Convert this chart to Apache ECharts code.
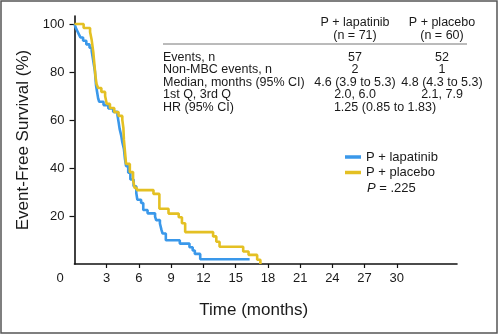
<!DOCTYPE html>
<html>
<head>
<meta charset="utf-8">
<script src="https://cdn.jsdelivr.net/npm/echarts@6/dist/echarts.min.js"></script>
<style>
html,body{margin:0;padding:0;background:#fff;}
#chart{width:500px;height:334px;}
</style>
</head>
<body>
<div id="chart"></div>
<script>
// ---- data ----
var lapatinibName = 'P + lapatinib';
var placeboName = 'P + placebo';
// [months, event-free survival %]
var lapatinibCurve = [
  [0,100],[0.1,98.6],[0.25,97.2],[0.4,95.8],[0.55,94.4],[0.8,93.0],[1.1,91.5],[1.4,90.1],
  [1.6,88.7],[1.7,85.9],[1.8,83.1],[1.9,80.3],[1.95,77.5],[2.0,74.6],[2.1,71.8],[2.2,69.0],
  [2.3,67.6],[2.7,66.2],[3.15,64.8],[3.6,63.4],[4.0,62.0],[4.1,59.2],[4.2,56.3],[4.35,53.5],
  [4.45,50.7],[4.6,47.9],[4.7,43.7],[4.8,40.8],[5.0,38.0],[5.2,35.2],[5.5,32.4],[5.75,29.6],
  [5.85,26.8],[6.2,25.4],[6.4,22.5],[6.8,21.1],[7.5,19.7],[7.6,18.3],[7.95,16.9],[8.1,14.1],
  [8.2,12.7],[8.5,9.9],[9.8,8.5],[10.7,7.0],[11.0,5.6],[11.2,4.2],[11.7,2.0],[16.3,2.0]
];
var placeboCurve = [
  [0,100],[0.85,98.3],[1.45,96.7],[1.6,93.3],[1.75,88.3],[1.85,83.3],[1.95,78.3],[2.05,75.0],
  [2.2,73.3],[2.5,71.7],[2.85,70.0],[3.0,66.7],[3.3,65.0],[3.7,63.3],[4.1,61.7],[4.45,60.0],
  [4.55,56.7],[4.6,51.7],[4.7,46.7],[4.8,41.7],[5.15,38.3],[5.45,35.0],[5.6,31.7],[5.8,30.8],
  [7.35,29.2],[7.9,23.0],[8.75,21.0],[9.7,19.5],[10.0,17.0],[10.3,13.3],[12.9,11.5],[13.2,9.3],
  [13.5,7.2],[15.7,5.2],[16.2,3.8],[17.0,1.8],[17.3,0]
];
var xTickValues = [3,6,9,12,15,18,21,24,27,30];
var yTickValues = [20,40,60,80,100];
var originLabel = '0';
var xTitle = 'Time (months)';
var yTitle = 'Event-Free Survival (%)';

var tableHeaderTop = ['P + lapatinib', 'P + placebo'];
var tableHeaderN = ['(n = 71)', '(n = 60)'];
var tableRowLabels = ['Events, n', 'Non-MBC events, n', 'Median, months (95% CI)', '1st Q, 3rd Q', 'HR (95% CI)'];
var tableLapatinib = ['57', '2', '4.6 (3.9 to 5.3)', '2.0, 6.0', null];
var tablePlacebo = ['52', '1', '4.8 (4.3 to 5.3)', '2.1, 7.9', null];
var hrText = '1.25 (0.85 to 1.83)';
var pValueText = ' = .225';

// ---- styles ----
var FONT = '"Liberation Sans", Arial, Helvetica, sans-serif';
var TXT = '#1a1a1a';
var BLUE = '#3a98ea';
var YELLOW = '#e4c023';
var TFONT = '12.5px ' + FONT;

var chart = echarts.init(document.getElementById('chart'), null, {renderer: 'canvas'});

var graphics = [];
// outer frame
graphics.push({type: 'rect', shape: {x: 1, y: 1, width: 496, height: 332},
  style: {fill: 'none', stroke: '#555', lineWidth: 1.5}, silent: true});
// origin label
graphics.push({type: 'text', x: 60, y: 278, style: {text: originLabel, font: '13px ' + FONT,
  fill: TXT, align: 'center', verticalAlign: 'middle'}});

// table
var colX = [355, 442];
var labelX = 163;
var rowY0 = 57.5, rowH = 12.4;
for (var c = 0; c < 2; c++) {
  graphics.push({type: 'text', x: colX[c], y: 23, style: {text: tableHeaderTop[c], font: TFONT,
    fill: TXT, align: 'center', verticalAlign: 'middle'}});
  graphics.push({type: 'text', x: colX[c], y: 36, style: {text: tableHeaderN[c], font: TFONT,
    fill: TXT, align: 'center', verticalAlign: 'middle'}});
}
graphics.push({type: 'line', shape: {x1: 163, y1: 44, x2: 467, y2: 44},
  style: {stroke: '#777', lineWidth: 1}});
for (var r = 0; r < tableRowLabels.length; r++) {
  var y = rowY0 + r * rowH;
  graphics.push({type: 'text', x: labelX, y: y, style: {text: tableRowLabels[r], font: TFONT,
    fill: TXT, align: 'left', verticalAlign: 'middle'}});
  if (tableLapatinib[r] !== null) {
    graphics.push({type: 'text', x: colX[0], y: y, style: {text: tableLapatinib[r], font: TFONT,
      fill: TXT, align: 'center', verticalAlign: 'middle'}});
    graphics.push({type: 'text', x: colX[1], y: y, style: {text: tablePlacebo[r], font: TFONT,
      fill: TXT, align: 'center', verticalAlign: 'middle'}});
  } else {
    graphics.push({type: 'text', x: 385, y: y, style: {text: hrText, font: TFONT,
      fill: TXT, align: 'center', verticalAlign: 'middle'}});
  }
}
// p value under legend
graphics.push({type: 'text', x: 367, y: 188.5, style: {
  text: '{i|P}{n|' + pValueText + '}',
  rich: {i: {fontStyle: 'italic', fontSize: 13, fontFamily: FONT, fill: TXT},
         n: {fontSize: 13, fontFamily: FONT, fill: TXT}},
  verticalAlign: 'middle'}});

var option = {
  animation: false,
  backgroundColor: '#fff',
  textStyle: {fontFamily: FONT},
  grid: {left: 74.5, right: 43, top: 16, bottom: 70, containLabel: false},
  legend: {
    orient: 'vertical', left: 345, top: 150, padding: 0,
    icon: 'rect', itemWidth: 16, itemHeight: 3.5, itemGap: 1.5,
    textStyle: {fontSize: 13, color: TXT, fontFamily: FONT, lineHeight: 14},
    data: [lapatinibName, placeboName]
  },
  xAxis: {
    type: 'value', min: 0, max: 35.6, interval: 3,
    name: xTitle, nameLocation: 'middle', nameGap: 37.5,
    nameTextStyle: {fontSize: 17, color: TXT, fontFamily: FONT, padding: [0, 24, 0, 0]},
    axisLine: {show: true, onZero: false, lineStyle: {color: '#111', width: 1.6}},
    axisTick: {show: true, inside: false, length: 4, customValues: xTickValues, lineStyle: {color: '#111', width: 1.2}},
    axisLabel: {show: true, customValues: xTickValues, margin: 8, fontSize: 13, color: TXT, fontFamily: FONT},
    splitLine: {show: false}
  },
  yAxis: {
    type: 'value', min: 0, max: 103.33, interval: 20,
    name: yTitle, nameLocation: 'middle', nameGap: 38.5,
    nameTextStyle: {fontSize: 17, color: TXT, fontFamily: FONT},
    axisLine: {show: true, onZero: false, lineStyle: {color: '#111', width: 1.6}},
    axisTick: {show: true, inside: false, length: 5, customValues: yTickValues, lineStyle: {color: '#111', width: 1.2}},
    axisLabel: {show: true, customValues: yTickValues, margin: 10, fontSize: 13, color: TXT, fontFamily: FONT},
    splitLine: {show: false}
  },
  series: [
    {name: lapatinibName, type: 'line', step: 'end', data: lapatinibCurve, showSymbol: false,
     symbol: 'none', color: BLUE, lineStyle: {color: BLUE, width: 2.6}, z: 2},
    {name: placeboName, type: 'line', step: 'end', data: placeboCurve, showSymbol: false,
     symbol: 'none', color: YELLOW, lineStyle: {color: YELLOW, width: 2.6}, z: 3}
  ],
  graphic: graphics
};
chart.setOption(option);
</script>
</body>
</html>
